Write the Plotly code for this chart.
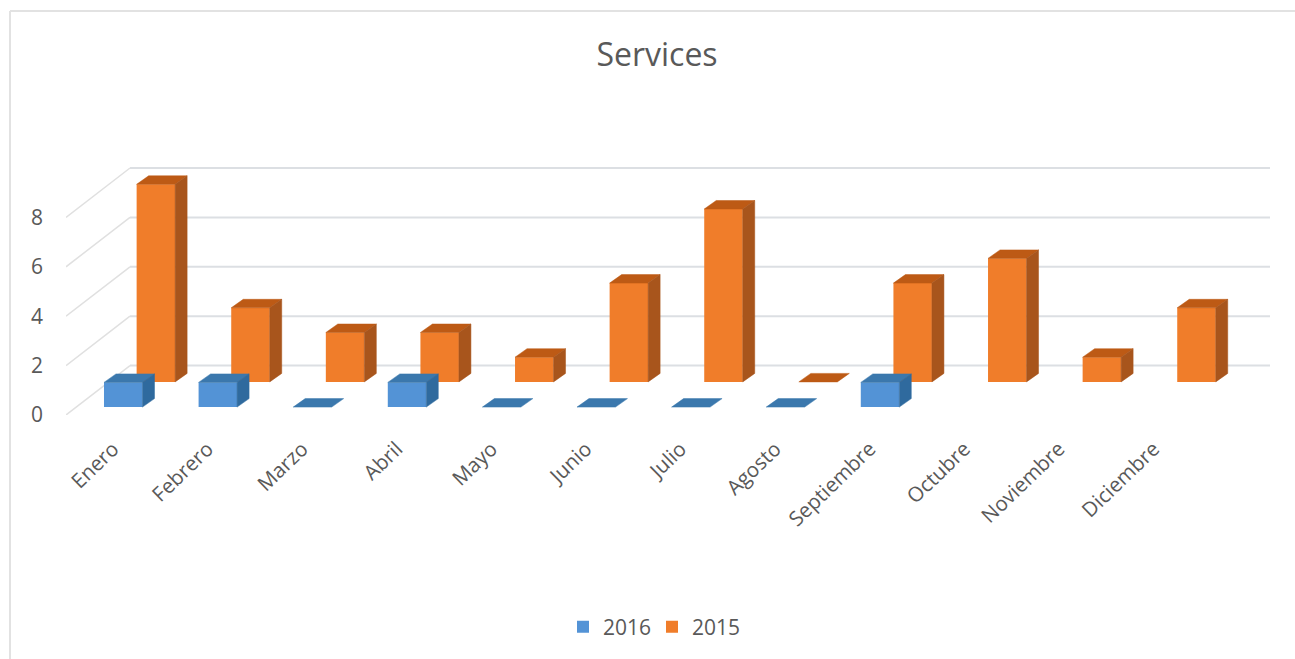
import plotly.graph_objects as go

# Monthly service counts per year (2016 has no entry from October on)
months = ["Enero", "Febrero", "Marzo", "Abril", "Mayo", "Junio", "Julio",
          "Agosto", "Septiembre", "Octubre", "Noviembre", "Diciembre"]
values_2016 = [1, 1, 0, 1, 0, 0, 0, 0, 1, None, None, None]
values_2015 = [8, 3, 2, 2, 1, 4, 7, 0, 4, 5, 1, 3]
y_ticks = [0, 2, 4, 6, 8]

# Plot box in pixels and the scale of the axes
W, H = 1295, 659
LEFT, RIGHT, TOP, BOTTOM = 66, 1270, 140, 415
CAT_PX = 94.6
UNIT_PX = 24.7
X0_PX = 113

x_min = (LEFT - X0_PX) / CAT_PX
x_max = (RIGHT - X0_PX) / CAT_PX
y_max = (BOTTOM - TOP) / UNIT_PX

# Oblique projection: floor depth, bar width and extrusion of the columns
FLOOR_DX = 64 / CAT_PX
FLOOR_DY = 2.0
BAR_W = 38.5 / CAT_PX
EXT_DX = 12 / CAT_PX
EXT_DY = 8.5 / UNIT_PX


def faces(values, depth):
    """Outline of the top and side faces of each column in a depth row."""
    shift = FLOOR_DX * depth
    base = FLOOR_DY * depth
    top_x, top_y, side_x, side_y = [], [], [], []
    for i, v in enumerate(values):
        if v is None:
            continue
        xl = i + shift - BAR_W / 2
        xr = i + shift + BAR_W / 2
        t = base + v
        top_x += [xl, xr, xr + EXT_DX, xl + EXT_DX, xl, None]
        top_y += [t, t, t + EXT_DY, t + EXT_DY, t, None]
        if v > 0:
            side_x += [xr, xr, xr + EXT_DX, xr + EXT_DX, xr, None]
            side_y += [base, t, t + EXT_DY, base + EXT_DY, base, None]
    return top_x, top_y, side_x, side_y


def polygon(xs, ys, color):
    return go.Scatter(x=xs, y=ys, mode="lines", fill="toself", fillcolor=color,
                      line=dict(color=color, width=0.5), hoverinfo="skip",
                      showlegend=False)


def column_row(name, values, depth, front, top, side):
    shift = FLOOR_DX * depth
    base = FLOOR_DY * depth
    bars = go.Bar(name=name, x=[i + shift for i in range(len(values))], y=values,
                  base=base, width=BAR_W, marker=dict(color=front, line=dict(width=0)))
    top_x, top_y, side_x, side_y = faces(values, depth)
    return bars, polygon(top_x, top_y, top), polygon(side_x, side_y, side)


DEPTH_2016 = 0.16
DEPTH_2015 = 0.67

fig = go.Figure()
bars_16, top_16, side_16 = column_row("2016", values_2016, DEPTH_2016,
                                      "#5393d6", "#3b78ad", "#2f6a9e")
bars_15, top_15, side_15 = column_row("2015", values_2015, DEPTH_2015,
                                      "#f07d2a", "#bd5a15", "#a8551c")
for trace in (bars_16, bars_15, top_15, side_15, top_16, side_16):
    fig.add_trace(trace)

# Floor and back-wall gridlines, behind the columns
shapes = []
for v in y_ticks:
    shapes.append(dict(type="line", layer="below", xref="x", yref="y",
                       x0=x_min, y0=v, x1=x_min + FLOOR_DX, y1=v + FLOOR_DY,
                       line=dict(color="#e0e0e0", width=1.5)))
    shapes.append(dict(type="line", layer="below", xref="x", yref="y",
                       x0=x_min + FLOOR_DX, y0=v + FLOOR_DY, x1=x_max, y1=v + FLOOR_DY,
                       line=dict(color="#dcdfe3", width=2)))

# Thin frame along the top and left of the chart area
PW, PH = RIGHT - LEFT, BOTTOM - TOP
px_x = lambda p: (p - LEFT) / PW
px_y = lambda p: (BOTTOM - p) / PH
frame = dict(color="#e2e2e2", width=2)
shapes.append(dict(type="line", xref="paper", yref="paper", x0=px_x(10), y0=px_y(11),
                   x1=px_x(1295), y1=px_y(11), line=frame))
shapes.append(dict(type="line", xref="paper", yref="paper", x0=px_x(10), y0=px_y(11),
                   x1=px_x(10), y1=px_y(659), line=frame))

FONT = "Open Sans"
GREY = "#595959"
fig.update_layout(
    width=W, height=H,
    margin=dict(l=LEFT, r=W - RIGHT, t=TOP, b=H - BOTTOM, autoexpand=False),
    paper_bgcolor="white", plot_bgcolor="white",
    barmode="overlay",
    font=dict(family=FONT, color=GREY),
    title=dict(text="Services", xref="container", yref="container",
               x=657 / W, xanchor="center", y=1 - 55 / H, yanchor="middle",
               font=dict(family=FONT, size=32, color=GREY)),
    xaxis=dict(range=[x_min, x_max], tickmode="array", tickvals=list(range(len(months))),
               ticktext=months, tickangle=-44, showgrid=False, zeroline=False,
               showline=False, ticks="", ticklabelstandoff=17,
               tickfont=dict(family=FONT, size=20.5, color=GREY)),
    yaxis=dict(range=[0, y_max], tickmode="array", tickvals=y_ticks, showgrid=False,
               zeroline=False, showline=False, ticks="", ticklabelstandoff=22,
               tickfont=dict(family=FONT, size=21, color=GREY)),
    legend=dict(orientation="h", xanchor="center", x=px_x(652), yanchor="middle",
                y=px_y(627), font=dict(family=FONT, size=21, color=GREY),
                entrywidth=44, entrywidthmode="pixels",
                bgcolor="rgba(0,0,0,0)"),
    shapes=shapes,
)

fig.write_html("out.html", config=dict(displayModeBar=False))
